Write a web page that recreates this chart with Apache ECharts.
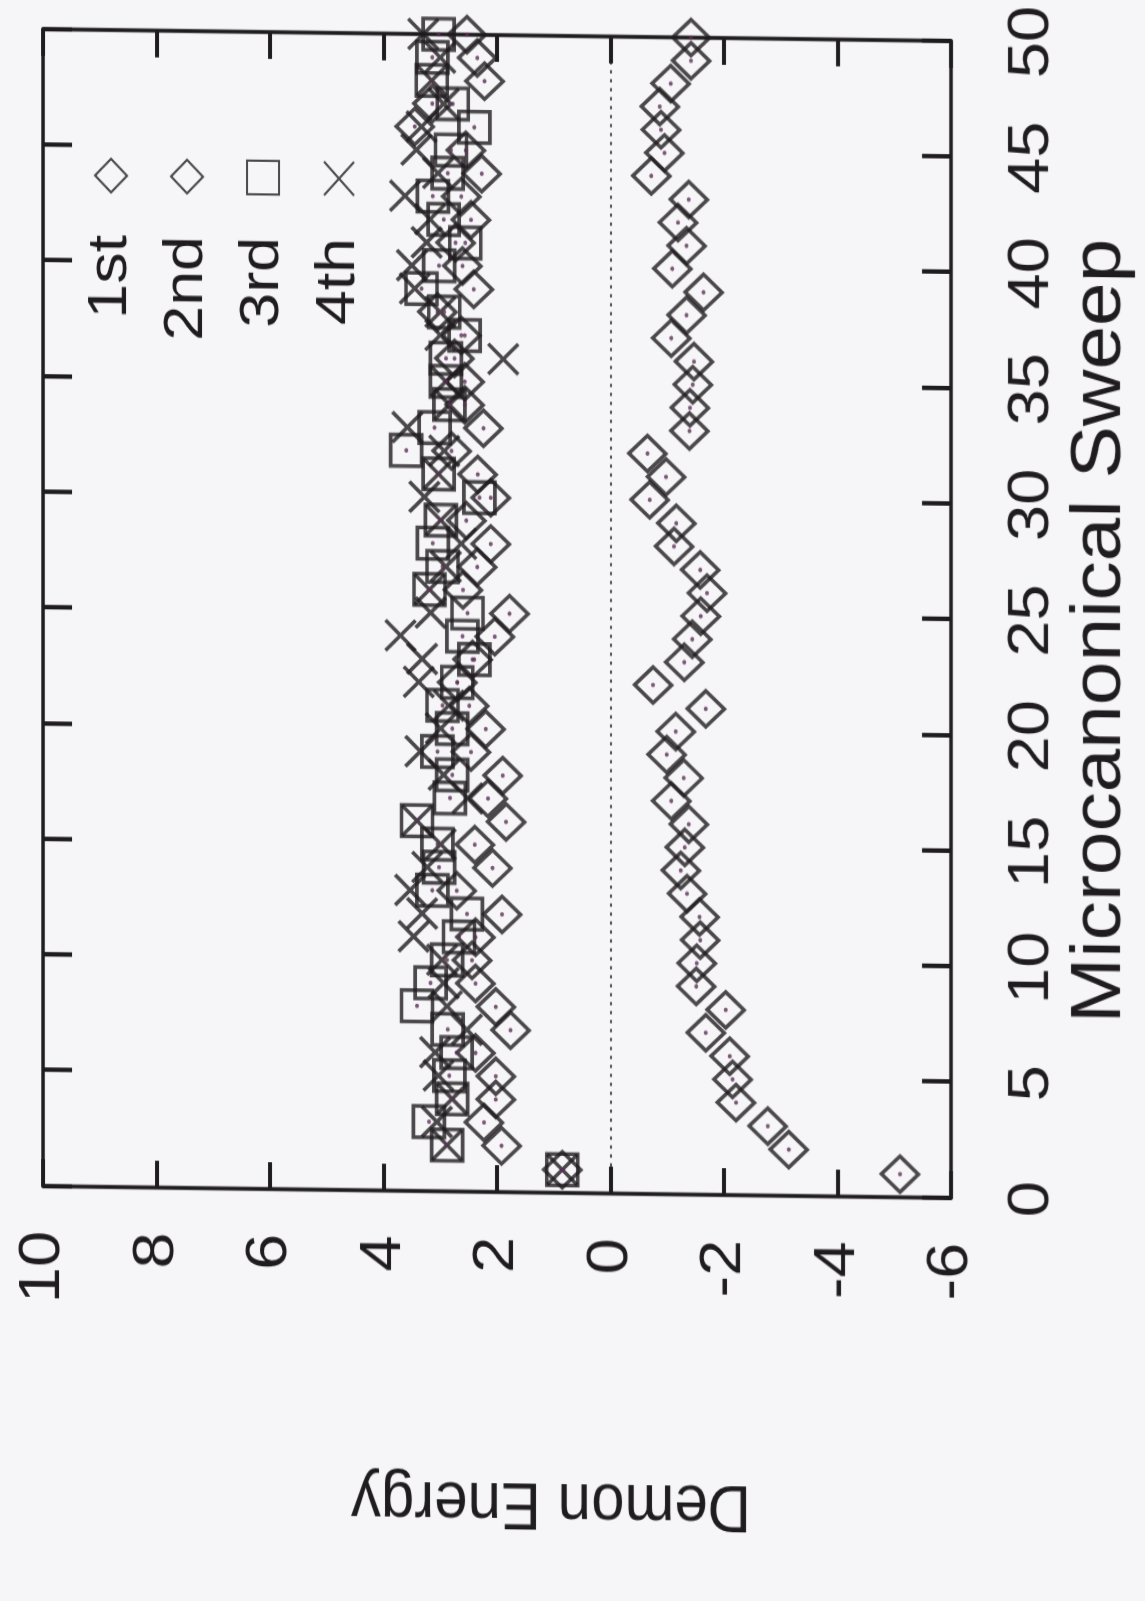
<!DOCTYPE html>
<html>
<head>
<meta charset="utf-8">
<script src="https://cdn.jsdelivr.net/npm/echarts@6.0.0/dist/echarts.min.js"></script>
<style>
html, body { margin: 0; padding: 0; width: 1145px; height: 1601px; overflow: hidden; background: #f6f5f8; }
/* the scanned page lies on its side and is a little stretched and skewed:
   draw the chart upright, then turn, stretch and skew it like the scan */
#main { position: absolute; width: 1601px; height: 1145px; left: -228px; top: 228px;
        transform: skewY(0.75deg) scaleY(1.12) rotate(-90deg); }
</style>
</head>
<body>
<div id="main"></div>
<script>
const sweeps = [1, 2, 3, 4, 5, 6, 7, 8, 9, 10, 11, 12, 13, 14, 15, 16, 17, 18, 19, 20,
    21, 22, 23, 24, 25, 26, 27, 28, 29, 30, 31, 32, 33, 34, 35, 36, 37, 38, 39, 40,
    41, 42, 43, 44, 45, 46, 47, 48, 49, 50];

const first = [-5.10, -3.14, -2.77, -2.21, -2.15, -2.10, -1.68, -2.03, -1.51, -1.52,
    -1.58, -1.57, -1.35, -1.24, -1.31, -1.38, -1.07, -1.29, -0.99, -1.15,
    -1.68, -0.75, -1.30, -1.44, -1.59, -1.70, -1.58, -1.12, -1.16, -0.69,
    -0.98, -0.65, -1.39, -1.40, -1.45, -1.47, -1.07, -1.34, -1.64, -1.09,
    -1.34, -1.19, -1.38, -0.72, -0.95, -0.89, -0.87, -1.06, -1.42, -1.42];

const second = [0.85, 1.92, 2.23, 2.02, 2.02, 2.38, 1.76, 2.02, 2.38, 2.44,
    2.38, 1.91, 2.71, 2.08, 2.39, 1.84, 2.16, 1.90, 2.46, 2.20,
    2.49, 2.70, 2.43, 2.04, 1.78, 2.60, 2.35, 2.11, 2.54, 2.11,
    2.34, 2.80, 2.24, 2.57, 2.57, 2.75, 2.63, 3.05, 2.41, 2.61,
    2.73, 2.46, 2.63, 2.27, 2.55, 3.45, 3.14, 2.22, 2.35, 2.53];

const third = [0.85, 2.88, 3.20, 2.79, 2.84, 2.71, 2.87, 3.41, 3.17, 2.88,
    2.67, 2.53, 3.14, 3.02, 3.05, 3.41, 2.83, 2.79, 3.05, 2.79,
    2.96, 2.70, 2.40, 2.61, 2.52, 3.19, 2.96, 3.13, 2.99, 2.31,
    3.03, 3.60, 3.10, 2.84, 2.90, 2.90, 2.57, 2.93, 3.33, 3.02,
    2.56, 2.94, 3.13, 2.87, 2.81, 2.40, 2.78, 3.15, 3.14, 3.03];

const fourth = [0.85, 2.88, 3.06, 2.79, 3.03, 3.09, 2.53, 2.88, 2.94, 2.97,
    3.47, 3.32, 3.53, 3.23, 2.99, 3.41, 2.52, 2.94, 3.35, 2.99,
    2.85, 3.38, 3.32, 3.70, 3.17, 3.19, 2.90, 2.63, 2.99, 3.28,
    3.03, 2.93, 3.58, 2.84, 2.90, 1.89, 3.00, 3.00, 3.45, 3.50,
    3.24, 3.18, 3.62, 3.04, 3.42, 3.33, 2.94, 3.15, 3.00, 3.30];

const ink = '#1f1c1f';
const dotColor = '#5a2d55';
const font = 'Liberation Sans';

function pairs(vals) {
    return sweeps.map((s, i) => [s, vals[i]]);
}

function markSeries(name, vals, symbol, size) {
    return {
        name: name,
        type: 'scatter',
        clip: false,
        symbol: symbol,
        symbolSize: size,
        itemStyle: { color: 'rgba(0,0,0,0)', borderColor: ink, borderWidth: 3.5 },
        data: pairs(vals)
    };
}

function dotSeries(name, vals) {
    return {
        name: name,
        type: 'scatter',
        clip: false,
        silent: true,
        symbol: 'circle',
        symbolSize: 4,
        itemStyle: { color: dotColor },
        data: pairs(vals)
    };
}

const cross = 'path://M0,0L20,20M20,0L0,20';

const axisLine = { show: true, onZero: false, lineStyle: { color: ink, width: 3.5 } };
const sweepTick = { show: true, inside: true, length: 29, lineStyle: { color: ink, width: 4 } };
const energyTick = { show: true, inside: true, length: 24, lineStyle: { color: ink, width: 4 } };
const label = { fontSize: 58, fontFamily: font, color: ink };

let myChart = echarts.init(document.getElementById('main'));
myChart.setOption({
    animation: false,
    backgroundColor: 'transparent',
    grid: { left: 450, right: 118, top: 43, bottom: 194, containLabel: false, outerBoundsMode: 'none' },
    legend: {
        data: ['1st', '2nd', '3rd', '4th'],
        orient: 'vertical',
        align: 'right',
        right: 227,
        top: 78,
        itemWidth: 30,
        itemHeight: 32,
        itemGap: 20,
        selectedMode: false,
        textStyle: { fontSize: 56, fontFamily: font, color: ink, padding: [0, 33, 0, 0] }
    },
    xAxis: [{
        type: 'value',
        min: 0, max: 50, interval: 5,
        position: 'bottom',
        axisLine: axisLine,
        axisTick: sweepTick,
        axisLabel: Object.assign({ margin: 52 }, label),
        splitLine: { show: false }
    }, {
        type: 'value',
        min: 0, max: 50, interval: 5,
        position: 'top',
        axisLine: axisLine,
        axisTick: sweepTick,
        axisLabel: { show: false },
        splitLine: { show: false }
    }],
    yAxis: [{
        type: 'value',
        min: -6, max: 10, interval: 2,
        position: 'left',
        axisLine: axisLine,
        axisTick: energyTick,
        axisLabel: Object.assign({ margin: 40 }, label),
        splitLine: { show: false }
    }, {
        type: 'value',
        min: -6, max: 10, interval: 2,
        position: 'right',
        axisLine: axisLine,
        axisTick: energyTick,
        axisLabel: { show: false },
        splitLine: { show: false }
    }],
    graphic: [{
        type: 'text',
        x: 958, y: 1101,
        style: { text: 'Microcanonical Sweep', fontSize: 70, fontFamily: font, fill: ink, align: 'center', verticalAlign: 'middle' }
    }, {
        type: 'text',
        x: 173, y: 551,
        rotation: Math.PI / 2,
        style: { text: 'Demon Energy', fontSize: 60, fontFamily: font, fill: ink, align: 'center', verticalAlign: 'middle' }
    }],
    series: [
        Object.assign(markSeries('1st', first, 'diamond', [32, 37]), {
            markLine: {
                silent: true,
                symbol: 'none',
                label: { show: false },
                lineStyle: { color: ink, type: [3, 5], width: 1.5 },
                data: [{ yAxis: 0 }]
            }
        }),
        markSeries('2nd', second, 'diamond', [32, 37]),
        markSeries('3rd', third, 'rect', [28, 31]),
        markSeries('4th', fourth, cross, [27, 30]),
        dotSeries('1st dot', first),
        dotSeries('2nd dot', second),
        dotSeries('3rd dot', third)
    ]
});
</script>
</body>
</html>
